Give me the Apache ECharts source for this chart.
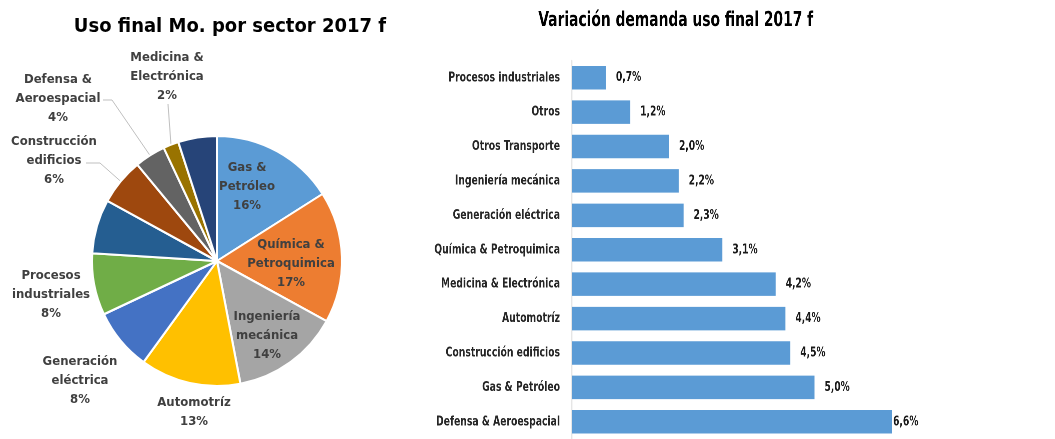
<!DOCTYPE html>
<html><head><meta charset="utf-8">
<script src="https://cdn.jsdelivr.net/npm/echarts@6/dist/echarts.min.js"></script>
<style>
html,body{margin:0;padding:0;background:#fff;overflow:hidden}
#wrap{position:relative;width:1055px;height:439px;overflow:hidden}
#bar{position:absolute;left:0;top:0;width:1406.667px;height:439px;transform:scaleX(0.75);transform-origin:0 0}
#pie{position:absolute;left:0;top:0;width:1055px;height:439px}
</style>
</head><body><div id="wrap"><div id="bar"></div><div id="pie"></div></div>
<script>
const pieNames = ['Gas & Petróleo', 'Química & Petroquimica', 'Ingeniería mecánica', 'Automotríz', 'Generación eléctrica', 'Procesos industriales', 'Otros', 'Construcción edificios', 'Defensa & Aeroespacial', 'Medicina & Electrónica', 'Otros Transporte'];
const pieLabelNames = ['Gas &\nPetróleo', 'Química &\nPetroquimica', 'Ingeniería\nmecánica', 'Automotríz', 'Generación\neléctrica', 'Procesos\nindustriales', '', 'Construcción\nedificios', 'Defensa &\nAeroespacial', 'Medicina &\nElectrónica', ''];
const pieValues = [16, 17, 14, 13, 8, 8, 7, 6, 4, 2, 5];
const pieColors = ['#5B9BD5', '#ED7D31', '#A5A5A5', '#FFC000', '#4472C4', '#70AD47', '#255E91', '#9E480E', '#636363', '#997300', '#264478'];
const barCategories = ['Procesos industriales', 'Otros', 'Otros Transporte', 'Ingeniería mecánica', 'Generación eléctrica', 'Química & Petroquimica', 'Medicina & Electrónica', 'Automotríz', 'Construcción edificios', 'Gas & Petróleo', 'Defensa & Aeroespacial'];
const barValues = [0.7, 1.2, 2.0, 2.2, 2.3, 3.1, 4.2, 4.4, 4.5, 5.0, 6.6];

const FONT = "'DejaVu Sans Condensed', 'Liberation Sans Narrow', Roboto, sans-serif";
const SX = 0.75; // horizontal squeeze of the bar panel (narrow text look)
// label placement (text positions, not marks)
const labelPos = [[247,187],[291,264],[267,336],[194,412],[80,381],[51,295],null,[54,161],[58,99],[167,77],null];
const lineBends = {7: [[100,163],[86,163]], 8: [[112,100],[103,100]], 9: [[168,104]]};

const barChart = echarts.init(document.getElementById('bar'), null, {devicePixelRatio: 2});
barChart.setOption({
  animation: false,
  title: {text: 'Variación demanda uso final 2017 f', left: 672 / SX, top: 5, textAlign: 'center',
    textStyle: {fontFamily: FONT, fontSize: 20.5, fontWeight: 'bold', color: '#000'}},
  grid: {left: 572 / SX, top: 60.5, width: 339.5 / SX, height: 385},
  xAxis: {type: 'value', min: 0, max: 7, show: false},
  yAxis: {type: 'category', inverse: true, data: barCategories,
    axisLine: {show: true, lineStyle: {color: '#D9D9D9', width: 1.3}},
    axisTick: {show: false},
    axisLabel: {margin: 12 / SX, fontFamily: FONT, fontSize: 13.7, fontWeight: 'bold', color: '#262626'}},
  series: [
    {type: 'bar', data: barValues.map((v, i) => ({value: v, label: {distance: (i === barValues.length - 1 ? 1 : 10) / SX}})),
     barWidth: 23.5, itemStyle: {color: '#5B9BD5'},
     label: {show: true, position: 'right', fontFamily: FONT, fontSize: 13.5, fontWeight: 'bold', color: '#1a1a1a',
       formatter: p => p.value.toFixed(1).replace('.', ',') + '%'}}
  ]
});

const pieChart = echarts.init(document.getElementById('pie'));
pieChart.setOption({
  animation: false,
  title: {text: 'Uso final Mo. por sector 2017 f', left: 225, top: 12, textAlign: 'center',
    textStyle: {fontFamily: FONT, fontSize: 20, fontWeight: 'bold', color: '#000'}},
  series: [
    {type: 'pie', center: [217, 261], radius: 125, startAngle: 90, clockwise: true,
     avoidLabelOverlap: false,
     itemStyle: {borderColor: '#fff', borderWidth: 2},
     data: pieValues.map((v, i) => ({
       name: pieNames[i], value: v, itemStyle: {color: pieColors[i]},
       label: {show: labelPos[i] !== null},
       labelLine: {show: !!lineBends[i]}
     })),
     label: {show: true, position: 'outside', fontFamily: FONT, fontSize: 13, fontWeight: 'bold', color: '#404040',
       lineHeight: 19, align: 'center',
       formatter: p => pieLabelNames[p.dataIndex] + '\n' + p.value + '%'},
     labelLine: {lineStyle: {color: '#BFBFBF', width: 1}, length: 10, length2: 10},
     labelLayout: p => {
       const pos = labelPos[p.dataIndex];
       if (!pos) return {};
       const res = {x: pos[0], y: pos[1], align: 'center', verticalAlign: 'middle'};
       const b = lineBends[p.dataIndex];
       if (b && p.labelLinePoints) res.labelLinePoints = [p.labelLinePoints[0]].concat(b);
       return res;
     }}
  ]
});
</script></body></html>
